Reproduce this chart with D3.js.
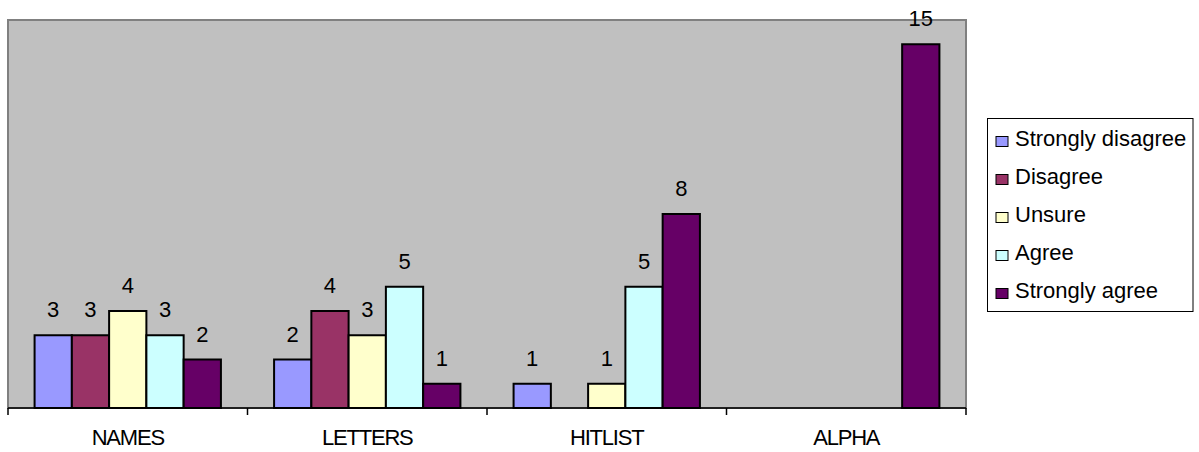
<!DOCTYPE html>
<html>
<head>
<meta charset="utf-8">
<script src="https://cdn.jsdelivr.net/npm/d3@7"></script>
<style>
  body { margin: 0; background: #fff; }
  svg { display: block; font-family: "Liberation Sans", Arial, sans-serif; }
</style>
</head>
<body>
<svg id="chart"></svg>
<script>
const categories = ["NAMES", "LETTERS", "HITLIST", "ALPHA"];
const seriesNames = ["Strongly disagree", "Disagree", "Unsure", "Agree", "Strongly agree"];
const seriesColors = ["#9999FF", "#993366", "#FFFFCC", "#CCFFFF", "#660066"];
// one array per series, one value per category
const stronglyDisagree = [3, 2, 1, 0];
const disagree = [3, 4, 0, 0];
const unsure = [4, 3, 1, 0];
const agree = [3, 5, 5, 0];
const stronglyAgree = [2, 1, 8, 15];
const seriesValues = [stronglyDisagree, disagree, unsure, agree, stronglyAgree];

const width = 1199;
const height = 452;
const plot = { left: 8, right: 966, top: 20, bottom: 408 };

const svg = d3.select("#chart")
    .attr("width", width)
    .attr("height", height);

const x0 = d3.scaleBand()
    .domain(categories)
    .range([plot.left, plot.right]);

const bw = x0.bandwidth();
const x1 = d3.scaleBand()
    .domain(seriesNames)
    .range([bw * 0.111, bw * 0.889]);

const y = d3.scaleLinear()
    .domain([0, 16])
    .range([plot.bottom, plot.top]);

// plot area
svg.append("rect")
    .attr("x", plot.left)
    .attr("y", plot.top)
    .attr("width", plot.right - plot.left)
    .attr("height", plot.bottom - plot.top)
    .attr("fill", "#C0C0C0")
    .attr("stroke", "#808080")
    .attr("stroke-width", 2);

// bars
const rows = [];
categories.forEach((c, ci) => {
    seriesNames.forEach((s, si) => {
        rows.push({ cat: c, series: si, value: seriesValues[si][ci] });
    });
});
const shown = rows.filter(d => d.value > 0);

svg.append("g")
    .selectAll("rect")
    .data(shown)
    .enter()
    .append("rect")
    .attr("x", d => x0(d.cat) + x1(seriesNames[d.series]))
    .attr("y", d => y(d.value))
    .attr("width", x1.bandwidth())
    .attr("height", d => y(0) - y(d.value))
    .attr("fill", d => seriesColors[d.series])
    .attr("stroke", "#000")
    .attr("stroke-width", 2);

// value labels
svg.append("g")
    .selectAll("text")
    .data(shown)
    .enter()
    .append("text")
    .attr("x", d => x0(d.cat) + x1(seriesNames[d.series]) + x1.bandwidth() / 2)
    .attr("y", d => y(d.value) - 18)
    .attr("text-anchor", "middle")
    .attr("font-size", 22)
    .attr("fill", "#000")
    .text(d => d.value);

// x axis
const xAxis = svg.append("g")
    .attr("transform", `translate(0, ${plot.bottom})`);
xAxis.append("line")
    .attr("x1", plot.left)
    .attr("x2", plot.right)
    .attr("stroke", "#000")
    .attr("stroke-width", 1.5);
const tickPos = categories.map(c => x0(c)).concat([plot.right]);
xAxis.selectAll(".tick")
    .data(tickPos)
    .enter()
    .append("line")
    .attr("x1", d => d)
    .attr("x2", d => d)
    .attr("y1", 0)
    .attr("y2", 7)
    .attr("stroke", "#000")
    .attr("stroke-width", 1.5);
xAxis.selectAll(".lbl")
    .data(categories)
    .enter()
    .append("text")
    .attr("x", d => x0(d) + bw / 2)
    .attr("y", 37)
    .attr("text-anchor", "middle")
    .attr("font-size", 22)
    .attr("letter-spacing", -1.2)
    .attr("fill", "#000")
    .text(d => d);

// legend
const legend = svg.append("g");
legend.append("rect")
    .attr("x", 987.5)
    .attr("y", 118.5)
    .attr("width", 205.5)
    .attr("height", 193)
    .attr("fill", "#fff")
    .attr("stroke", "#000")
    .attr("stroke-width", 1);
const item = legend.selectAll(".item")
    .data(seriesNames)
    .enter()
    .append("g")
    .attr("transform", (d, i) => `translate(0, ${146 + i * 38})`);
item.append("rect")
    .attr("x", 996)
    .attr("y", -9.5)
    .attr("width", 12)
    .attr("height", 10)
    .attr("fill", (d, i) => seriesColors[i])
    .attr("stroke", "#000")
    .attr("stroke-width", 1);
item.append("text")
    .attr("x", 1015)
    .attr("y", 0)
    .attr("font-size", 22)
    .attr("fill", "#000")
    .text(d => d);
</script>
</body>
</html>
